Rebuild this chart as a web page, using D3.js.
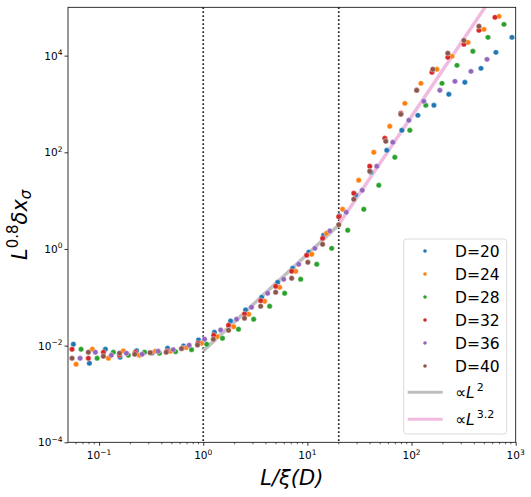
<!DOCTYPE html>
<html>
<head>
<meta charset="utf-8">
<script src="https://cdn.jsdelivr.net/npm/d3@7"></script>
<style>
  body { margin: 0; background: #fff; }
  svg { display: block; font-family: "DejaVu Sans", sans-serif; }
</style>
</head>
<body>
<svg id="chart" width="531" height="497"></svg>
<script>
// ---- data ----
const seriesNames = ["D=20", "D=24", "D=28", "D=32", "D=36", "D=40"];
const seriesColors = ["#1f77b4", "#ff7f0e", "#2ca02c", "#d62728", "#9467bd", "#8c564b"];

const xD20 = [0.0566,0.0807,0.115,0.159,0.229,0.323,0.454,0.647,0.901,1.28,1.83,2.55,3.64,5.18,7.22,10.3,14.3,20.3,29.1,40.6,57.9,80.7,115,164,228,325,464,646,921];
const yD20 = [0.0107,0.00432,0.00843,0.00575,0.00788,0.00706,0.00884,0.00986,0.0131,0.0189,0.0324,0.0548,0.100,0.205,0.399,0.855,1.92,4.88,13.1,38.6,110,285,582,938,1585,2805,5460,11700,23900];

const xD24 = [0.0601,0.0862,0.123,0.171,0.244,0.348,0.485,0.687,0.963,1.36,1.96,2.73,3.88,5.42,7.72,11.0,15.3,21.8,31.1,43.4,61.8,86.2,123,175,244,348,496,691];
const yD24 = [0.00412,0.00843,0.00548,0.00777,0.00633,0.00766,0.00766,0.0091,0.0112,0.0154,0.0247,0.0446,0.0828,0.161,0.346,0.777,2.11,6.62,26.4,100,345,1031,2673,5210,9670,18800,35000,65000];

const xD28 = [0.0671,0.0957,0.137,0.191,0.273,0.380,0.542,0.772,1.08,1.53,2.18,3.05,4.34,6.05,8.62,12.3,17.1,24.4,34.8,48.5,69.1,96.3,137,196,273,388,542,772];
const yD28 = [0.00843,0.00548,0.0073,0.00633,0.0073,0.00696,0.00751,0.00826,0.0107,0.0142,0.0218,0.0352,0.0653,0.121,0.236,0.483,1.03,2.44,6.62,20.8,78.8,285,938,2673,6300,12300,23900,44400];

const xD32 = [0.055,0.0789,0.110,0.157,0.223,0.314,0.448,0.628,0.889,1.26,1.75,2.49,3.56,4.96,7.06,9.84,14.0,20.0,27.9,39.7,55.4,78.9,112,157,223,318,444,632];
const yD32 = [0.00843,0.00548,0.0073,0.00633,0.0073,0.00716,0.00766,0.00884,0.0112,0.0164,0.0264,0.0453,0.0853,0.169,0.346,0.741,1.66,4.66,14.2,51.3,195,641,1916,4515,9220,17100,33400,62000];

const xD36 = [0.0657,0.0921,0.131,0.183,0.259,0.369,0.515,0.733,1.03,1.47,2.09,2.91,4.15,5.92,8.25,11.8,16.4,23.6,33.6,46.4,66.1,94.2,131,187,261,372,530];
const yD36 = [0.00548,0.0073,0.00633,0.00696,0.00664,0.00766,0.00826,0.0102,0.0136,0.0211,0.0352,0.0623,0.121,0.236,0.483,1.03,2.36,5.74,16.4,51.3,161,459,1135,1916,2940,4730,8380];

const xD40 = [0.055,0.0789,0.110,0.157,0.220,0.309,0.441,0.618,0.881,1.25,1.75,2.49,3.56,4.96,7.06,10.1,14.0,20.0,27.9,39.7,56.6,78.9,112,160,223,318,444];
const yD40 = [0.00548,0.0073,0.00604,0.00696,0.00664,0.00716,0.0073,0.00867,0.0103,0.0136,0.0208,0.0369,0.0653,0.127,0.248,0.531,1.25,3.18,10.7,40.5,169,611,1916,5210,11200,20700,40400];

const seriesX = [xD20, xD24, xD28, xD32, xD36, xD40];
const seriesY = [yD20, yD24, yD28, yD32, yD36, yD40];

// guide lines (endpoints)
const guide2X = [1, 20];
const guide2Y = [0.0078, 3.12];
const guide32X = [20, 1000];
const guide32Y = [3.2, 876000];

const vLines = [1, 20];
const xDomain = [0.0503, 1000];
const yDomain = [1e-4, 1e5];
const xTickExps = [-1, 0, 1, 2, 3];
const yTickExps = [-4, -2, 0, 2, 4];

// ---- layout ----
const svg = d3.select("#chart");
const L = 68, R = 515.7, T = 7.3, B = 442.3;
const x = d3.scaleLog().domain(xDomain).range([L, R]);
const y = d3.scaleLog().domain(yDomain).range([B, T]);

svg.append("defs").append("clipPath").attr("id", "clip")
  .append("rect").attr("x", L).attr("y", T).attr("width", R - L).attr("height", B - T);

// axes
const xAxis = d3.axisBottom(x).tickValues(xTickExps.map(e => Math.pow(10, e))).tickSize(3.5).tickFormat("");
const gx = svg.append("g").attr("transform", `translate(0,${B})`).call(xAxis);
// minor ticks x
const minorX = [];
for (let e = -2; e <= 2; e++) for (let m = 2; m <= 9; m++) {
  const v = m * Math.pow(10, e);
  if (v >= xDomain[0] && v <= xDomain[1]) minorX.push(v);
}
svg.append("g").selectAll("line").data(minorX).join("line")
  .attr("x1", d => x(d)).attr("x2", d => x(d)).attr("y1", B).attr("y2", B + 2)
  .attr("stroke", "#000").attr("stroke-width", 0.6);

const yAxis = d3.axisLeft(y).tickValues(yTickExps.map(e => Math.pow(10, e))).tickSize(3.5).tickFormat("");
const gy = svg.append("g").attr("transform", `translate(${L},0)`).call(yAxis);
[gx, gy].forEach(g => {
  g.select(".domain").remove();
  g.selectAll(".tick line").attr("stroke", "#000").attr("stroke-width", 0.8);
});

// tick labels
const supFmt = e => (e < 0 ? "\u2212" + Math.abs(e) : String(e));
xTickExps.forEach(e => {
  const t = svg.append("text").attr("x", x(Math.pow(10, e))).attr("y", B + 17)
    .attr("text-anchor", "middle").attr("font-size", 10.5).attr("fill", "#000");
  t.append("tspan").text("10");
  t.append("tspan").attr("dy", -4.5).attr("font-size", 7.5).text(supFmt(e));
});
yTickExps.forEach(e => {
  const t = svg.append("text").attr("x", L - 5.5).attr("y", y(Math.pow(10, e)) + 4)
    .attr("text-anchor", "end").attr("font-size", 10.5).attr("fill", "#000");
  t.append("tspan").text("10");
  t.append("tspan").attr("dy", -4.5).attr("font-size", 7.5).text(supFmt(e));
});

const plot = svg.append("g").attr("clip-path", "url(#clip)");

// vertical dotted lines
plot.selectAll("line.v").data(vLines).join("line").attr("class", "v")
  .attr("x1", d => x(d)).attr("x2", d => x(d)).attr("y1", T).attr("y2", B)
  .attr("stroke", "#222").attr("stroke-width", 1.7).attr("stroke-dasharray", "1.7,2.3");

// guide lines
const line = d3.line().x(d => x(d[0])).y(d => y(d[1]));
plot.append("path").datum(d3.zip(guide2X, guide2Y)).attr("d", line)
  .attr("fill", "none").attr("stroke", "#bfbfbf").attr("stroke-width", 3.5);
plot.append("path").datum(d3.zip(guide32X, guide32Y)).attr("d", line)
  .attr("fill", "none").attr("stroke", "#f1bbe0").attr("stroke-width", 3.5);

// scatter points
seriesX.forEach((xs, i) => {
  plot.append("g").selectAll("circle").data(d3.zip(xs, seriesY[i])).join("circle")
    .attr("cx", d => x(d[0])).attr("cy", d => y(d[1])).attr("r", 2.7)
    .attr("fill", seriesColors[i]).attr("stroke", "#fff").attr("stroke-width", 0.4);
});

// frame
svg.append("rect").attr("x", L).attr("y", T).attr("width", R - L).attr("height", B - T)
  .attr("fill", "none").attr("stroke", "#000").attr("stroke-width", 0.8);

// legend
const lg = svg.append("g");
lg.append("rect").attr("x", 403.7).attr("y", 239).attr("width", 103).attr("height", 195)
  .attr("rx", 3).attr("fill", "#fff").attr("fill-opacity", 0.8).attr("stroke", "#d0d0d0").attr("stroke-width", 0.8);
seriesNames.forEach((n, i) => {
  const cy = 251 + i * 23;
  lg.append("circle").attr("cx", 425).attr("cy", cy).attr("r", 1.8).attr("fill", seriesColors[i]);
  lg.append("text").attr("x", 455).attr("y", cy + 5.6).attr("font-size", 15.5).attr("fill", "#000").text(n);
});
const guideLabels = [["2", "#bfbfbf", 392.3], ["3.2", "#f1bbe0", 419.3]];
guideLabels.forEach(([ex, c, yy]) => {
  lg.append("line").attr("x1", 407.7).attr("x2", 442.7).attr("y1", yy).attr("y2", yy)
    .attr("stroke", c).attr("stroke-width", 3);
  const t = lg.append("text").attr("x", 455).attr("y", yy + 5.5).attr("font-size", 15.5).attr("fill", "#000");
  t.append("tspan").text("\u221D");
  t.append("tspan").attr("font-style", "italic").text("L");
  t.append("tspan").attr("dy", -7).attr("font-size", 11).attr("dx", 2).text(ex);
});

// axis labels
const xl = svg.append("text").attr("x", (L + R) / 2).attr("y", 485).attr("text-anchor", "middle")
  .attr("font-size", 21).attr("font-style", "italic").attr("fill", "#000");
xl.text("L/\u03BE(D)");

const yl = svg.append("text").attr("transform", `translate(27,${(T + B) / 2}) rotate(-90)`)
  .attr("text-anchor", "middle").attr("font-size", 21).attr("fill", "#000");
yl.append("tspan").attr("font-style", "italic").text("L");
yl.append("tspan").attr("dy", -9).attr("font-size", 15).text("0.8");
yl.append("tspan").attr("dy", 9).attr("font-style", "italic").text("\u03B4x");
yl.append("tspan").attr("dy", 4).attr("font-size", 15).attr("font-style", "italic").text("\u03C3");
</script>
</body>
</html>
